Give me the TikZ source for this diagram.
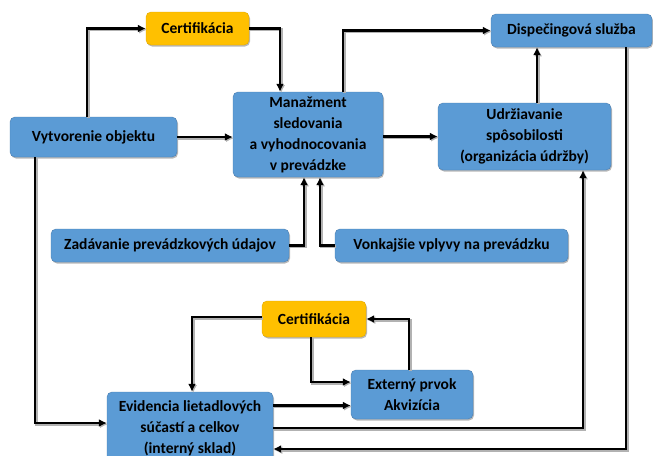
\documentclass[tikz,border=0pt]{standalone}
\usepackage{fontspec}
\setmainfont{Carlito}
\usepackage{tikz}
\usetikzlibrary{arrows.meta,shadows}

\definecolor{boxblue}{HTML}{5B9BD5}
\definecolor{boxedge}{HTML}{4A7EB0}
\definecolor{certgold}{HTML}{FFC000}
\definecolor{certedge}{HTML}{E0A800}

\begin{document}
\begin{tikzpicture}[x=1pt,y=-1pt]
% Styles
\tikzset{
  box/.style = {draw=boxedge, fill=boxblue, rounded corners=5pt, align=center, inner sep=0pt,
                font=\bfseries\fontsize{15.5}{21}\selectfont,
                drop shadow={shadow xshift=1pt, shadow yshift=-1.5pt, fill=gray!70, opacity=0.8}},
  certbox/.style = {box, fill=certgold, draw=certedge},
  conn/.style = {line width=2.6pt, -{Latex[length=8pt,width=8pt]},
                 preaction={draw=gray!60, line width=2.6pt, transform canvas={shift={(1.2pt,-1.2pt)}}}}
}

\useasboundingbox (0,0) rectangle (653,455);

% Boxes
\node[certbox, minimum width=103, minimum height=33] (certA) at (197.5,28.5) {Certifikácia};
\node[box, minimum width=167, minimum height=40] (vytv) at (93.5,137) {Vytvorenie objektu};
\node[box, minimum width=150, minimum height=85] (manaz) at (308,134.5) {Manažment\\sledovania\\a vyhodnocovania\\v prevádzke};
\node[box, minimum width=173, minimum height=67] (udrz) at (524.5,136.5) {Udržiavanie\\spôsobilosti\\(organizácia údržby)};
\node[box, minimum width=161, minimum height=33] (disp) at (571.5,30.5) {Dispečingová služba};
\node[box, minimum width=238, minimum height=33] (zadav) at (170,245.5) {Zadávanie prevádzkových údajov};
\node[box, minimum width=233, minimum height=33] (vonk) at (451.5,245.5) {Vonkajšie vplyvy na prevádzku};
\node[certbox, minimum width=104, minimum height=36] (certB) at (314,319) {Certifikácia};
\node[box, minimum width=122, minimum height=49] (ext) at (412,394.5) {Externý prvok\\Akvizícia};
\node[box, minimum width=166, minimum height=72] (evid) at (190,428) {Evidencia lietadlových\\súčastí a celkov\\(interný sklad)};

% Upper part
\draw[conn] ([xshift=-6.5]vytv.north) |- (certA.west);
\draw[conn] (certA.east) -| ([xshift=-28]manaz.north);
\draw[conn] (vytv.east) -- (manaz.west |- vytv.east);
\draw[conn] ([xshift=35]manaz.north) |- (disp.west);
\draw[conn] (manaz.east |- udrz.west) -- (udrz.west);
\draw[conn] ([xshift=12.5]udrz.north) -- ([xshift=12.5]udrz.north |- disp.south);
\draw[conn] (zadav.east) -| ([xshift=-4]manaz.south);
\draw[conn] (vonk.west) -| ([xshift=12]manaz.south);

% Lower part
\draw[conn] ([xshift=54.5]disp.south) |- ([yshift=-21]evid.east);
\draw[conn] ([xshift=-58.5]vytv.south) |- ([yshift=5]evid.west);
\draw[conn] ([yshift=2]certB.west) -| ([xshift=2]evid.north);
\draw[conn] ([xshift=-3]certB.south) |- ([yshift=12.5]ext.west);
\draw[conn] ([yshift=-11]ext.west -| evid.east) -- ([yshift=-11]ext.west);
\draw[conn] (evid.east) -| ([xshift=58.5]udrz.south);
\draw[conn] ([xshift=-3]ext.north) |- (certB.east);
\end{tikzpicture}
\end{document}
